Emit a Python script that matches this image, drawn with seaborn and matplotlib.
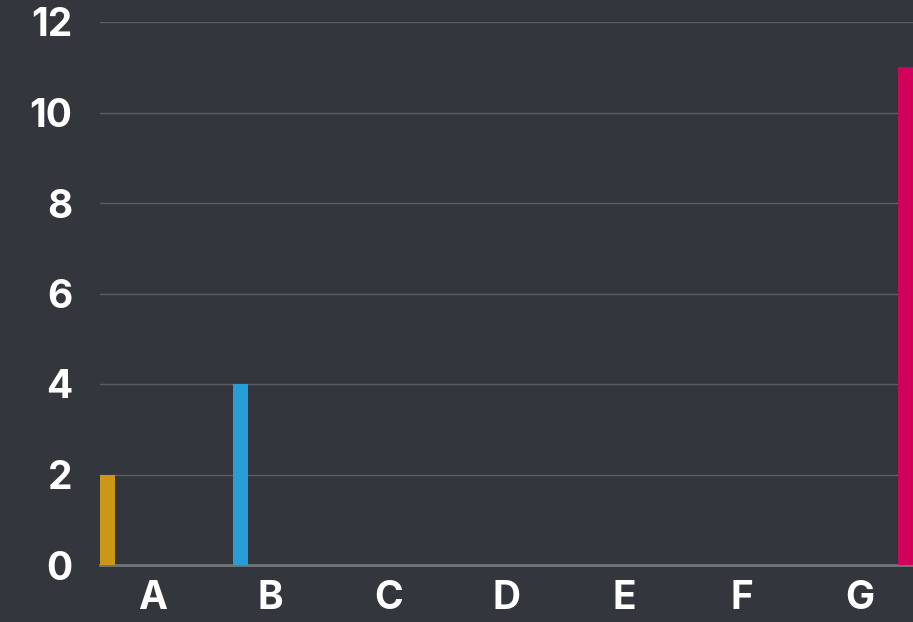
import numpy as np
import pandas as pd
import matplotlib.pyplot as plt
import seaborn as sns

categories = ["A", "B", "C", "D", "E", "F", "G"]
values = [2, 4, 0, 0, 0, 0, 11]
colors = ["#cc9716", "#279fd6", "#7f7f7f", "#7f7f7f", "#7f7f7f", "#7f7f7f", "#d0025c"]

df = pd.DataFrame({"cat": categories, "val": values})

bg = "#33363d"
sns.set_style("dark")
plt.rcParams["font.family"] = ["Inter", "DejaVu Sans"]

fig = plt.figure(figsize=(9.13, 6.22), dpi=100, facecolor=bg)
ax = fig.add_axes([100 / 913, 57 / 622, 813 / 913, 543 / 622])
ax.set_facecolor(bg)

sns.barplot(data=df, x="cat", y="val", hue="cat", palette=colors,
            dodge=True, width=0.9, legend=False, ax=ax, saturation=1,
            linewidth=0)

ax.set_xlim(-0.447, 6.447)
ax.set_ylim(0, 12)
ax.set_yticks([0, 2, 4, 6, 8, 10, 12])
ax.yaxis.grid(True, color="#5b5d62", linewidth=1)
ax.xaxis.grid(False)
ax.set_axisbelow(True)
for s in ["top", "right", "left"]:
    ax.spines[s].set_visible(False)
ax.spines["bottom"].set_color("#74767a")
ax.spines["bottom"].set_linewidth(2)
ax.spines["bottom"].set_zorder(0.5)

ax.tick_params(axis="both", length=0, colors="white", labelsize=28)
ax.tick_params(axis="y", pad=20)
ax.tick_params(axis="x", pad=11)
for lbl in ax.get_xticklabels() + ax.get_yticklabels():
    lbl.set_fontweight("bold")
ax.set_xlabel("")
ax.set_ylabel("")

fig.savefig("out.png", dpi=100, facecolor=bg)
